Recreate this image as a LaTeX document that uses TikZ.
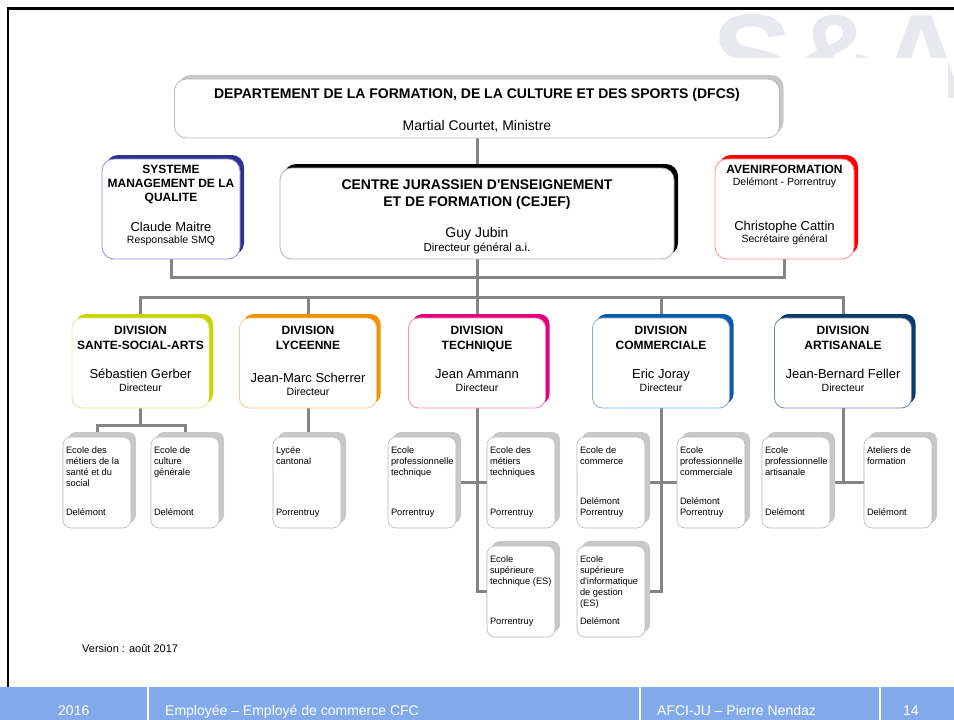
\documentclass[tikz,border=0pt]{standalone}
\usepackage{fontspec}
\setmainfont{Liberation Sans}
\usetikzlibrary{shadows,backgrounds}

\definecolor{linegray}{HTML}{848484}
\definecolor{boxgray}{HTML}{B8B8B8}
\definecolor{shadowgray}{HTML}{C8C8C8}
\definecolor{wmgray}{HTML}{E8E9EE}
\definecolor{footblue}{HTML}{82A9E9}
\definecolor{smqblue}{HTML}{2E3192}
\definecolor{smqlight}{HTML}{8C8ECA}
\definecolor{avred}{HTML}{FF0000}
\definecolor{avlight}{HTML}{FF8C8C}
\definecolor{ssalime}{HTML}{C8D400}
\definecolor{ssalight}{HTML}{E2E78C}
\definecolor{lycorange}{HTML}{F39200}
\definecolor{lyclight}{HTML}{F8C88C}
\definecolor{techpink}{HTML}{E4007C}
\definecolor{techlight}{HTML}{F08CC0}
\definecolor{commblue}{HTML}{0B5CA8}
\definecolor{commlight}{HTML}{86AAD4}
\definecolor{artblue}{HTML}{0B3B6C}
\definecolor{artlight}{HTML}{6F88A6}

\tikzset{shade_style/.style 2 args={drop shadow={opacity=1, fill=#1, shadow xshift=#2, shadow yshift=#2}}}

% division box: title, name, role
\newcommand{\divtext}[4][14pt]{\textbf{DIVISION}\\\textbf{#2}\\[#1]{\fontsize{13}{15}\selectfont #3}\\[-2pt]{\fontsize{10.5}{12}\selectfont #4}\rule[\dimexpr#1-22pt\relax]{0pt}{\dimexpr22pt-#1\relax}}
% school box: name at top, place at bottom
\newcommand{\schooltext}[2]{\parbox[t][73pt][t]{62pt}{\raggedright\strut #1\par\vfill #2\strut}}

\begin{document}
\begin{tikzpicture}[x=1pt, y=-1pt]
\tikzstyle{top_style} = [rectangle, rounded corners=12pt, fill=white, line width=0.8pt, align=center, inner sep=2pt]
\tikzstyle{div_style} = [rectangle, rounded corners=10pt, fill=white, line width=0.8pt, align=center, inner sep=2pt, minimum width=137pt, minimum height=90pt, font=\fontsize{12}{15}\selectfont]
\tikzstyle{school_style} = [rectangle, rounded corners=8pt, fill=white, draw=boxgray, line width=0.6pt, inner sep=3pt, minimum width=68pt, minimum height=91pt, font=\fontsize{9.3}{11}\selectfont, shade_style={shadowgray}{5pt}]
\tikzstyle{edge_style} = [draw=linegray, line width=3pt]
\tikzstyle{foot_style} = [anchor=base west, text=white, font=\fontsize{14}{16}\selectfont, inner sep=0pt]

\useasboundingbox (0,0) rectangle (954,720);

% watermark
\begin{scope}
\clip (0,10) rectangle (954,57) (948,10) rectangle (954,100);
\node[anchor=base west, text=wmgray, font=\fontsize{120}{120}\selectfont\bfseries, inner sep=0pt] (wm) at (712,98) {S\&A};
\end{scope}

% top level
\node[top_style, draw=boxgray, shade_style={shadowgray}{4pt}, minimum width=605pt, minimum height=59pt, font=\fontsize{14}{16}\selectfont] (t1) at (477,108.5) {\textbf{DEPARTEMENT DE LA FORMATION, DE LA CULTURE ET DES SPORTS (DFCS)}\rule{0pt}{14pt}\\[16pt]Martial Courtet, Ministre};
\node[top_style, draw=smqlight, shade_style={smqblue}{4pt}, minimum width=138pt, minimum height=100pt, font=\fontsize{12}{14}\selectfont] (t2) at (171,209) {\textbf{SYSTEME}\\\textbf{MANAGEMENT DE LA}\\\textbf{QUALITE}\\[16pt]{\fontsize{13}{15}\selectfont Claude Maitre}\\[-2pt]{\fontsize{10.5}{12}\selectfont Responsable SMQ}\rule[-9pt]{0pt}{9pt}};
\node[top_style, draw=gray!60, shade_style={black}{4pt}, minimum width=394pt, minimum height=91pt, font=\fontsize{14}{17}\selectfont] (t3) at (477,213.5) {\textbf{CENTRE JURASSIEN D\textquotesingle ENSEIGNEMENT}\rule{0pt}{16pt}\\\textbf{ET DE FORMATION (CEJEF)}\\[14pt]Guy Jubin\\[-3pt]{\fontsize{11.5}{13}\selectfont Directeur général a.i.}};
\node[top_style, draw=avlight, shade_style={avred}{4pt}, minimum width=139pt, minimum height=100pt, font=\fontsize{12}{12}\selectfont] (t4) at (784.5,209) {\textbf{AVENIRFORMATION}\\{\fontsize{10.5}{12}\selectfont Delémont - Porrentruy}\\[33pt]{\fontsize{13}{15}\selectfont Christophe Cattin}\\{\fontsize{10.5}{12}\selectfont Secrétaire général}\rule[-10.6pt]{0pt}{10.6pt}};

% divisions
\node[div_style, draw=ssalight, shade_style={ssalime}{4pt}] (d1) at (140.5,363) {\divtext{SANTE-SOCIAL-ARTS}{Sébastien Gerber}{Directeur}};
\node[div_style, draw=lyclight, shade_style={lycorange}{4pt}] (d2) at (308,363) {\divtext[18pt]{LYCEENNE}{Jean-Marc Scherrer}{Directeur}};
\node[div_style, draw=techlight, shade_style={techpink}{4pt}] (d3) at (477,363) {\divtext{TECHNIQUE}{Jean Ammann}{Directeur}};
\node[div_style, draw=commlight, shade_style={commblue}{4pt}] (d4) at (661,363) {\divtext{COMMERCIALE}{Eric Joray}{Directeur}};
\node[div_style, draw=artlight, shade_style={artblue}{4pt}] (d5) at (843,363) {\divtext{ARTISANALE}{Jean-Bernard Feller}{Directeur}};

% schools
\node[school_style] (s1) at (97,482.5) {\schooltext{Ecole des\\métiers de la\\santé et du\\social}{Delémont}};
\node[school_style] (s2) at (185,482.5) {\schooltext{Ecole de\\culture\\générale}{Delémont}};
\node[school_style] (s3) at (307,482.5) {\schooltext{Lycée\\cantonal}{Porrentruy}};
\node[school_style] (s4) at (422,482.5) {\schooltext{Ecole\\professionnelle\\technique}{Porrentruy}};
\node[school_style] (s5) at (521,482.5) {\schooltext{Ecole des\\métiers\\techniques}{Porrentruy}};
\node[school_style] (s6) at (521,591.5) {\schooltext{Ecole\\supérieure\\technique (ES)}{Porrentruy}};
\node[school_style] (s7) at (611,482.5) {\schooltext{Ecole de\\commerce}{Delémont\\Porrentruy}};
\node[school_style] (s8) at (611,591.5) {\schooltext{Ecole\\supérieure\\d\textquotesingle informatique\\de gestion\\(ES)}{Delémont}};
\node[school_style] (s9) at (711,482.5) {\schooltext{Ecole\\professionnelle\\commerciale}{Delémont\\Porrentruy}};
\node[school_style] (s10) at (796,482.5) {\schooltext{Ecole\\professionnelle\\artisanale}{Delémont}};
\node[school_style] (s11) at (898,482.5) {\schooltext{Ateliers de\\formation}{Delémont}};

\node[anchor=base west, inner sep=0pt, font=\fontsize{11}{13}\selectfont] (ver) at (82,652) {Version : août 2017};

% connectors behind the boxes
\begin{scope}[on background layer]
\fill[white] (0,0) rectangle (954,720);
\coordinate (c1) at (477,297);
\coordinate (c2) at (140.5,425);
\draw[edge_style] (t1.south) -- (t3.north);
\draw[edge_style] (t2.south) -- ++(0,18) -| (t4.south);
\draw[edge_style] (t3.south) -- (c1);
\draw[edge_style] (d1.north) |- (c1) -| (d5.north);
\draw[edge_style] (d2.north) -- (d2.north |- c1);
\draw[edge_style] (d3.north) -- (c1);
\draw[edge_style] (d4.north) -- (d4.north |- c1);
\draw[edge_style] (d1.south) -- (c2);
\draw[edge_style] (s1.north) |- (c2) -| (s2.north);
\draw[edge_style] (d2.south) -- (d2.south |- s3.north);
\draw[edge_style] (d3.south) |- (s6.west);
\draw[edge_style] (s4.east) -- (s5.west);
\draw[edge_style] (d4.south) |- (s8.east);
\draw[edge_style] (s7.east) -- (s9.west);
\draw[edge_style] (d5.south) -- (d5.south |- s10.east);
\draw[edge_style] (s10.east) -- (s11.west);
\end{scope}

% frame and footer
\draw[line width=2.5pt] (8,687) -- (8,8.7) -- (954,8.7);
\fill[footblue] (0,687) rectangle (954,720);
\foreach \x in {148,640,880}
  \draw[white, line width=1.5pt] (\x,687) -- (\x,720);
\node[foot_style] (f1) at (58,715) {2016};
\node[foot_style] (f2) at (165,715) {Employée – Employé de commerce CFC};
\node[foot_style] (f3) at (657,715) {AFCI-JU – Pierre Nendaz};
\node[foot_style] (f4) at (903,715) {14};
\end{tikzpicture}
\end{document}
